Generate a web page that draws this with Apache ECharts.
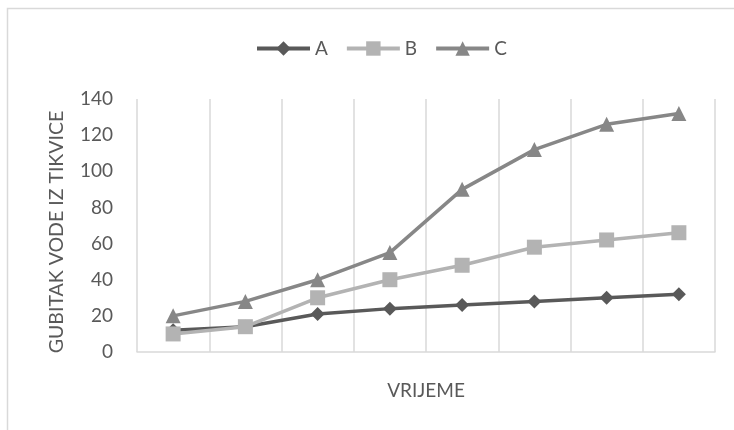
<!DOCTYPE html>
<html><head><meta charset="utf-8">
<script src="https://cdn.jsdelivr.net/npm/echarts@6/dist/echarts.min.js"></script>
<style>html,body{margin:0;padding:0;background:#fff}#c{width:734px;height:430px}</style>
</head><body><div id="c"></div>
<script>
const categories = ['1','2','3','4','5','6','7','8'];
const seriesA = [12, 14, 21, 24, 26, 28, 30, 32];
const seriesB = [10, 14, 30, 40, 48, 58, 62, 66];
const seriesC = [20, 28, 40, 55, 90, 112, 126, 132];
const yTicks = [0, 20, 40, 60, 80, 100, 120, 140];
const yTitle = 'GUBITAK VODE IZ TIKVICE';
const xTitle = 'VRIJEME';

const font = 'Lato, "Open Sans", sans-serif';
const chart = echarts.init(document.getElementById('c'), null, {renderer: 'canvas'});
function mk(name, data, color, symbol, size) {
  return {name, type: 'line', data, symbol, symbolSize: size,
    lineStyle: {color, width: 3.5}, itemStyle: {color}, color};
}
chart.setOption({
  animation: false,
  graphic: [
    {type: 'rect', shape: {x: 7.5, y: 8.5, width: 760, height: 460},
      style: {fill: 'none', stroke: '#d9d9d9', lineWidth: 1.5}},
    {type: 'text', x: 57, y: 232, rotation: Math.PI / 2,
      style: {text: yTitle, fontFamily: font, fontSize: 19.5, fill: '#595959',
        align: 'center', verticalAlign: 'middle'}}
  ],
  legend: {top: 34, left: 250, itemWidth: 53, itemHeight: 18, itemGap: 17,
    lineStyle: {width: 4},
    textStyle: {fontFamily: font, fontSize: 19, color: '#595959'},
    data: ['A','B','C']},
  grid: {left: 137, right: 19, top: 99, bottom: 78},
  xAxis: {type: 'category', data: categories, boundaryGap: true,
    name: xTitle, nameLocation: 'middle', nameGap: 29,
    nameTextStyle: {fontFamily: font, fontSize: 19, color: '#595959'},
    axisLine: {lineStyle: {color: '#d9d9d9', width: 1.5}},
    axisTick: {show: false}, axisLabel: {show: false},
    splitLine: {show: true, lineStyle: {color: '#d9d9d9', width: 1.5}}},
  yAxis: {type: 'value', min: yTicks[0], max: yTicks[yTicks.length-1], interval: 20,
    axisLine: {show: false}, axisTick: {show: false},
    axisLabel: {fontFamily: font, fontSize: 19, color: '#595959', margin: 24},
    splitLine: {show: false}},
  series: [
    mk('A', seriesA, '#595959', 'diamond', 14),
    mk('B', seriesB, '#b3b3b3', 'rect', 15),
    mk('C', seriesC, '#878787', 'triangle', 15)
  ]
});
</script></body></html>
